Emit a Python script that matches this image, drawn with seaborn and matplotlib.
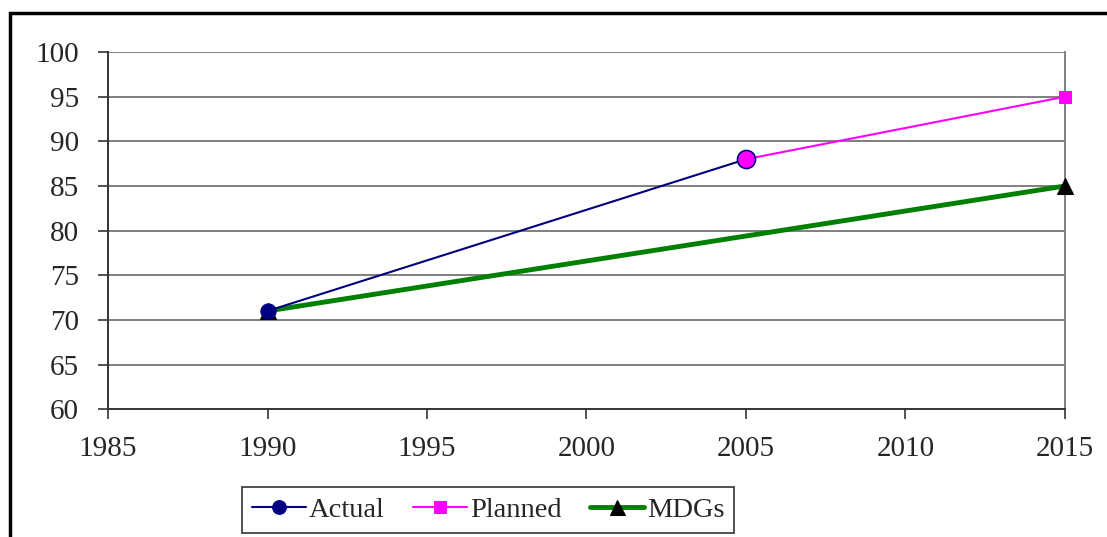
import matplotlib
matplotlib.use('Agg')
import matplotlib.pyplot as plt
import seaborn as sns
import pandas as pd
from matplotlib.patches import Rectangle

sns.set_style('white')
plt.rcParams['font.family'] = ['Liberation Serif', 'DejaVu Serif']

# data
actual_years = [1990, 2005]
actual_vals = [71, 88]
planned_years = [2005, 2015]
planned_vals = [88, 95]
mdg_years = [1990, 2015]
mdg_vals = [71, 85]
x_ticks = [1985, 1990, 1995, 2000, 2005, 2010, 2015]
y_ticks = [60, 65, 70, 75, 80, 85, 90, 95, 100]

fig = plt.figure(figsize=(11.07, 5.37), dpi=100)
ax = fig.add_axes([0.0976, 0.238, 0.962 - 0.0976, 0.903 - 0.238])

# horizontal grid
for y in y_ticks[1:]:
    ax.axhline(y, color='#7f7f7f', lw=1.4, zorder=0)

df_mdg = pd.DataFrame({'year': mdg_years, 'value': mdg_vals})
df_act = pd.DataFrame({'year': actual_years, 'value': actual_vals})
df_plan = pd.DataFrame({'year': planned_years, 'value': planned_vals})

sns.lineplot(data=df_mdg, x='year', y='value', ax=ax, color='#008000', lw=3.5,
             marker='^', markersize=12, markerfacecolor='black', markeredgecolor='black',
             label='MDGs', zorder=3, clip_on=False)
sns.lineplot(data=df_plan, x='year', y='value', ax=ax, color='#ff00ff', lw=1.5,
             marker='s', markersize=9, markerfacecolor='#ff00ff', markeredgecolor='#ff00ff',
             label='Planned', zorder=4, clip_on=False)
sns.lineplot(data=df_act, x='year', y='value', ax=ax, color='#000080', lw=1.5,
             marker='o', markersize=11, markerfacecolor='#000080', markeredgecolor='#000080',
             label='Actual', zorder=5, clip_on=False)
# the 2005 point of the actual series is drawn in the planned colour
ax.plot(actual_years[1:], actual_vals[1:], ls='none', marker='o', markersize=13,
        markerfacecolor='#ff00ff', markeredgecolor='#000080', markeredgewidth=1.2, zorder=6)

ax.set_xlim(1985, 2015)
ax.set_ylim(60, 100)
ax.set_xticks(x_ticks)
ax.set_yticks(y_ticks)
ax.set_xlabel('')
ax.set_ylabel('')
ax.tick_params(axis='both', direction='out', length=7, width=1.2, color='#333333',
               labelsize=21, left=True, bottom=True)
ax.tick_params(axis='y', pad=14)
ax.tick_params(axis='x', pad=12)

ax.spines['top'].set_visible(False)
ax.spines['right'].set_color('#7f7f7f')
ax.spines['right'].set_linewidth(1.4)
for s in ['left', 'bottom']:
    ax.spines[s].set_color('#333333')
    ax.spines[s].set_linewidth(1.4)

handles, labels = ax.get_legend_handles_labels()
order = [labels.index(l) for l in ['Actual', 'Planned', 'MDGs']]
ax.legend([handles[i] for i in order], [labels[i] for i in order], ncol=3,
          loc='center', bbox_to_anchor=(0.441, 0.05), bbox_transform=fig.transFigure,
          fontsize=20.5, frameon=True, fancybox=False, edgecolor='black',
          handlelength=1.9, handletextpad=0.1, columnspacing=1.0,
          borderpad=0.35, markerscale=0.9)
ax.get_legend().get_frame().set_linewidth(1.2)

# outer frame (cut off at right and bottom)
fig.patches.append(Rectangle((0.009, -0.1), 1.2, 1.0 - 0.024 + 0.1, transform=fig.transFigure,
                             fill=False, edgecolor='black', lw=2.5))

fig.savefig('out.png', dpi=100)
